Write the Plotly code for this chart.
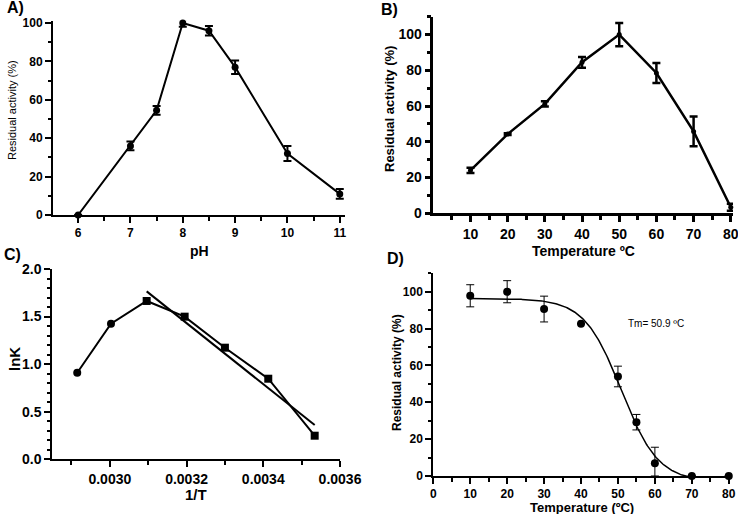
import numpy as np
import plotly.graph_objects as go

W, H = 738, 514

# ---- Panel A: pH profile ----
ph = [6, 7, 7.5, 8, 8.5, 9, 10, 11]
ph_act = [0, 36, 54.5, 100, 96, 77, 32, 11]
ph_err = [0, 2.3, 2.3, 2, 2.5, 3.5, 3.9, 2.5]

# ---- Panel B: temperature profile ----
temp_b = [10, 20, 30, 40, 50, 60, 70, 80]
temp_b_act = [24, 44.3, 61.2, 84.5, 100, 78.5, 45.8, 3.4]
temp_b_err = [1.5, 0.5, 1.5, 3, 6.5, 5.6, 8.3, 2]

# ---- Panel C: Arrhenius plot ----
inv_t = [0.002915, 0.003003, 0.003096, 0.003195, 0.003300, 0.003413, 0.003534]
lnk = [0.91, 1.425, 1.664, 1.499, 1.173, 0.847, 0.248]
lnk_symbols = ["circle", "circle", "square", "square", "square", "square", "square"]
fit_start = 2  # linear fit over the square points

# ---- Panel D: thermal stability ----
temp_d = [10, 20, 30, 40, 50, 55, 60, 70, 80]
temp_d_act = [97.8, 100, 90.6, 82.6, 54, 29.2, 6.9, 0, 0]
temp_d_err_plus = [6, 6, 7, 0, 5.6, 4.2, 8.7, 0, 0]
temp_d_err_minus = [6, 6, 7, 0, 5.6, 4.2, 6.9, 0, 0]
# Boltzmann fit parameters
b_top, b_bottom, b_tm, b_slope = 96.3, -3.0, 50.9, 5.0

FONT = "Liberation Sans, Arial, sans-serif"

def px(x):
    return x / W

def py(y):
    return 1 - y / H

fig = go.Figure()

# A
fig.add_trace(go.Scatter(
    x=ph, y=ph_act, mode="lines+markers", xaxis="x", yaxis="y",
    line=dict(color="black", width=2), marker=dict(color="black", size=7),
    error_y=dict(type="data", array=ph_err, color="black", thickness=2, width=4),
    cliponaxis=False, showlegend=False))

# B
fig.add_trace(go.Scatter(
    x=temp_b, y=temp_b_act, mode="lines+markers", xaxis="x2", yaxis="y2",
    line=dict(color="black", width=2.5), marker=dict(color="black", size=5),
    error_y=dict(type="data", array=temp_b_err, color="black", thickness=2.5, width=4),
    cliponaxis=False, showlegend=False))

# C
fig.add_trace(go.Scatter(
    x=inv_t, y=lnk, mode="lines+markers", xaxis="x3", yaxis="y3",
    line=dict(color="black", width=2),
    marker=dict(color="black", size=8, symbol=lnk_symbols),
    cliponaxis=False, showlegend=False))
fx = np.array(inv_t[fit_start:])
fy = np.array(lnk[fit_start:])
slope, icpt = np.polyfit(fx, fy, 1)
lx = np.array([fx.min(), fx.max()])
fig.add_trace(go.Scatter(
    x=lx, y=slope * lx + icpt, mode="lines", xaxis="x3", yaxis="y3",
    line=dict(color="black", width=2), showlegend=False))

# D
cx = np.linspace(min(temp_d), max(temp_d), 300)
cy = b_bottom + (b_top - b_bottom) / (1 + np.exp((cx - b_tm) / b_slope))
fig.add_trace(go.Scatter(
    x=cx, y=cy, mode="lines", xaxis="x4", yaxis="y4",
    line=dict(color="black", width=1.5), showlegend=False))
fig.add_trace(go.Scatter(
    x=temp_d, y=temp_d_act, mode="markers", xaxis="x4", yaxis="y4",
    marker=dict(color="black", size=8),
    error_y=dict(type="data", symmetric=False, array=temp_d_err_plus,
                 arrayminus=temp_d_err_minus, color="black", thickness=1, width=4),
    cliponaxis=False, showlegend=False))


def axis(domain, rng, tickvals, minorvals, fsize, lw=2, fmt=None, anchor=None):
    d = dict(domain=domain, range=rng, showgrid=False, zeroline=False,
             showline=True, linecolor="black", linewidth=lw,
             ticks="outside", ticklen=6, tickwidth=lw, tickcolor="black",
             tickmode="array", tickvals=tickvals, automargin=False,
             ticklabeloverflow="allow",
             tickfont=dict(family=FONT, size=fsize, color="black", weight="bold"),
             minor=dict(tickmode="array", tickvals=minorvals, ticks="outside",
                        ticklen=3.5, tickwidth=lw, tickcolor="black"),
             anchor=anchor, fixedrange=True)
    if fmt:
        d["tickformat"] = fmt
    return d

a_x = axis([px(53), px(345)], [5.52, 11.1], [6, 7, 8, 9, 10, 11],
           [6.5, 7.5, 8.5, 9.5, 10.5], 12, anchor="y")
a_y = axis([py(215), py(20.7)], [0, 101.2], [0, 20, 40, 60, 80, 100],
           [10, 30, 50, 70, 90], 12, anchor="x")
b_x = axis([px(433.3), px(733)], [0, 80.6], [10, 20, 30, 40, 50, 60, 70, 80],
           [5, 15, 25, 35, 45, 55, 65, 75], 14, lw=2.5, anchor="y2")
b_y = axis([py(213.3), py(16.7)], [0, 110], [0, 20, 40, 60, 80, 100],
           [10, 30, 50, 70, 90, 110], 14, lw=2.5, anchor="x2")
c_x = axis([px(52.3), px(340)], [0.00285, 0.0036], [0.0030, 0.0032, 0.0034, 0.0036],
           [0.0029, 0.0031, 0.0033, 0.0035], 14, fmt=".4f", anchor="y3")
c_y = axis([py(459.3), py(269)], [0, 2.0], [0, 0.5, 1.0, 1.5, 2.0],
           [round(0.1 * i, 1) for i in range(1, 20) if i % 5], 14, fmt=".1f", anchor="x3")
d_x = axis([px(433.3), px(731.7)], [0, 80.8], list(range(0, 81, 10)),
           list(range(5, 80, 10)), 12, anchor="y4")
d_y = axis([py(476), py(273.3)], [0, 110], [0, 20, 40, 60, 80, 100],
           [10, 30, 50, 70, 90, 110], 12, anchor="x4")

annots = []

def label(text, x, y, size, bold=True, angle=0, xref="paper", yref="paper"):
    annots.append(dict(text=f"<b>{text}</b>" if bold else text,
                       x=x, y=y, xref=xref, yref=yref, showarrow=False,
                       xanchor="center", yanchor="middle", textangle=angle,
                       font=dict(family=FONT, size=size, color="black")))

# panel labels
label("A)", px(15), py(8), 16)
label("B)", px(389), py(9), 16)
label("C)", px(13), py(254), 16)
label("D)", px(395), py(258), 16)
# axis titles
label("pH", px(199), py(251), 14)
label("Residual activity (%)", px(12), py(110), 11, bold=False, angle=-90)
label("Temperature ºC", px(583), py(251), 14)
label("Residual activity (%)", px(389), py(109), 13, angle=-90)
label("1/T", px(196), py(494), 15)
label("lnK", px(14), py(359), 15, angle=-90)
label("Temperature (ºC)", px(582), py(507), 13)
label("Residual activity (%)", px(397), py(373), 12, angle=-90)
label("Tm= 50.9 ºC", 60.2, 83, 10, bold=False, xref="x4", yref="y4")

fig.update_layout(
    width=W, height=H, margin=dict(l=0, r=0, t=0, b=0),
    paper_bgcolor="white", plot_bgcolor="white",
    font=dict(family=FONT, color="black"),
    xaxis=a_x, yaxis=a_y, xaxis2=b_x, yaxis2=b_y,
    xaxis3=c_x, yaxis3=c_y, xaxis4=d_x, yaxis4=d_y,
    annotations=annots, showlegend=False)

fig.write_html("out.html", config={"displayModeBar": False},
               post_script="document.body.style.margin='0';document.body.style.overflow='hidden';")
